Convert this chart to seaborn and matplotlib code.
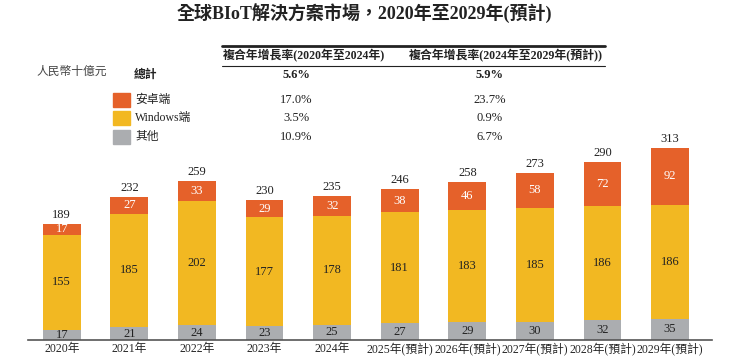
import pandas as pd
import matplotlib.pyplot as plt
import seaborn as sns

# data (RMB billion)
years = ['2020年', '2021年', '2022年', '2023年', '2024年',
         '2025年(預計)', '2026年(預計)', '2027年(預計)', '2028年(預計)', '2029年(預計)']
other = [17, 21, 24, 23, 25, 27, 29, 30, 32, 35]
windows = [155, 185, 202, 177, 178, 181, 183, 185, 186, 186]
android = [17, 27, 33, 29, 32, 38, 46, 58, 72, 92]
totals = [189, 232, 259, 230, 235, 246, 258, 273, 290, 313]

cagr_labels = ['總計', '安卓端', 'Windows端', '其他']
cagr_2020_2024 = ['5.6%', '17.0%', '3.5%', '10.9%']
cagr_2024_2029 = ['5.9%', '23.7%', '0.9%', '6.7%']

c_android = '#E5612A'
c_windows = '#F2B822'
c_other = '#ABADB0'

sns.set_style('white')
FONT = ['Liberation Serif', 'Noto Sans CJK TC']
plt.rcParams['font.family'] = FONT

df = pd.DataFrame({'year': years, 'other': other, 'windows': windows, 'android': android})
df['b2'] = df['other'] + df['windows']

fig = plt.figure(figsize=(7.29, 3.59), dpi=100)
ax = fig.add_axes([28 / 729, 19 / 359, 684 / 729, 320 / 359])

w = 0.56
kw = dict(width=w, ax=ax, saturation=1, linewidth=0)
sns.barplot(data=df, x='year', y='other', color=c_other, **kw)
sns.barplot(data=df, x='year', y='windows', bottom=df['other'], color=c_windows, **kw)
sns.barplot(data=df, x='year', y='android', bottom=df['b2'], color=c_android, **kw)

fs = 9
for i in range(len(years)):
    ax.text(i, other[i] / 2, str(other[i]), ha='center', va='center', fontsize=fs, color='#222222')
    ax.text(i, other[i] + windows[i] / 2, str(windows[i]), ha='center', va='center', fontsize=fs, color='#222222')
    ax.text(i, other[i] + windows[i] + android[i] / 2, str(android[i]), ha='center', va='center',
            fontsize=fs, color='white')
    ax.text(i, other[i] + windows[i] + android[i] + 5, str(totals[i]), ha='center', va='bottom',
            fontsize=fs, color='#222222')

ax.set_xlim(-0.5, 9.62)
ax.set_ylim(0, 522)
ax.set_xlabel('')
ax.set_ylabel('')
ax.set_yticks([])
ax.tick_params(axis='x', length=0, pad=2, labelsize=8.5)
for s in ['top', 'right', 'left']:
    ax.spines[s].set_visible(False)
ax.spines['bottom'].set_color('#555555')
ax.spines['bottom'].set_linewidth(1.2)

# title
fig.text(0.5, 1 - 13 / 359, '全球BIoT解決方案市場，2020年至2029年(預計)', ha='center', va='center',
         fontsize=13, fontweight='bold', color='#222222')

# unit
fig.text(36 / 729, 1 - 72 / 359, '人民幣十億元', ha='left', va='center', fontsize=8.5,
         style='italic', color='#444444')

# CAGR table
fig.add_artist(plt.Line2D([222 / 729, 605 / 729], [1 - 46 / 359, 1 - 46 / 359], color='#222222', lw=2))
fig.add_artist(plt.Line2D([222 / 729, 605 / 729], [1 - 66 / 359, 1 - 66 / 359], color='#222222', lw=0.8))
fig.text(304 / 729, 1 - 56 / 359, '複合年增長率(2020年至2024年)', ha='center', va='center',
         fontsize=8.6, fontweight='bold', color='#222222')
fig.text(506 / 729, 1 - 56 / 359, '複合年增長率(2024年至2029年(預計))', ha='center', va='center',
         fontsize=8.6, fontweight='bold', color='#222222')

row_y = [75, 100, 118, 137]
sq_colors = [None, c_android, c_windows, c_other]
for k in range(4):
    y = 1 - row_y[k] / 359
    bold = 'bold' if k == 0 else 'normal'
    if sq_colors[k] is not None:
        fig.add_artist(plt.Rectangle((113 / 729, y - 7 / 359), 17 / 729, 14 / 359,
                                     color=sq_colors[k], transform=fig.transFigure))
        fig.text(135 / 729, y, cagr_labels[k], ha='left', va='center', fontsize=8.5, color='#222222')
    else:
        fig.text(134 / 729, y, cagr_labels[k], ha='left', va='center', fontsize=8.5,
                 fontweight='bold', color='#222222')
    fig.text(296 / 729, y, cagr_2020_2024[k], ha='center', va='center', fontsize=9,
             fontweight=bold, color='#222222')
    fig.text(490 / 729, y, cagr_2024_2029[k], ha='center', va='center', fontsize=9,
             fontweight=bold, color='#222222')

fig.savefig('out.png', dpi=100)
